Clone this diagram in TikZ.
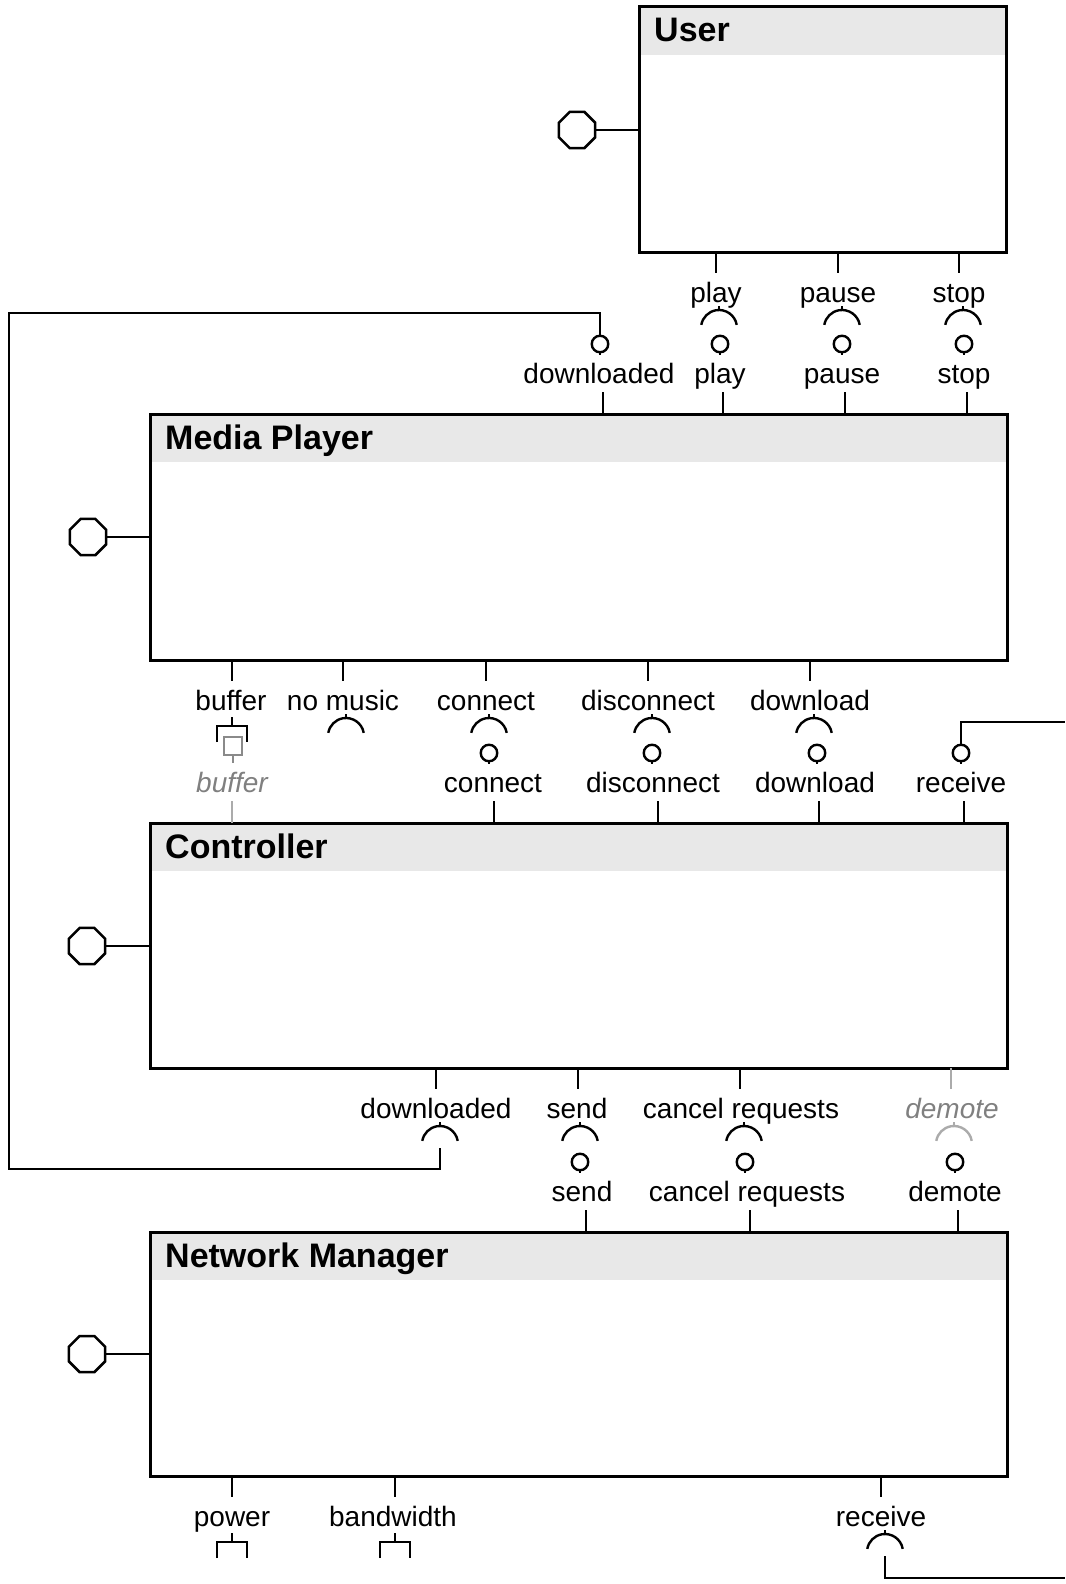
\documentclass[tikz,border=0pt]{standalone}
\usepackage{fontspec}
\setmainfont{Liberation Sans}
\usetikzlibrary{shapes.geometric}

\newcommand{\lblfont}{\fontsize{28}{32}\selectfont}
\newcommand{\ttlfont}{\fontsize{34}{40}\selectfont\bfseries}

\definecolor{hdrgray}{HTML}{E8E8E8}
\definecolor{dimtext}{HTML}{808080}
\definecolor{dimline}{HTML}{ABABAB}
\definecolor{dimsquare}{HTML}{8A8A8A}

\tikzset{
  compbox/.style={fill=white, inner sep=0pt, outer sep=0pt, anchor=north west},
  frame/.style={draw=black, line width=3pt},
  stub/.style={draw=black, line width=2.4pt},
  wire/.style={draw=black, line width=2.4pt},
  lbl/.style={font=\lblfont, anchor=base, inner sep=0pt},
  ttl/.style={font=\ttlfont, anchor=base west, inner sep=0pt},
  ball/.style={circle, draw=black, line width=2.4pt, minimum size=16.5pt, inner sep=0pt, fill=white},
  octo/.style={regular polygon, regular polygon sides=8, draw=black, line width=2.5pt,
               minimum size=39pt, inner sep=0pt, fill=white},
}

% required interface below a box edge: stub, label, socket
\newcommand{\ReqSock}[6]{% id, edge y, stub x, label x, socket x, text
  \draw[stub] (#3,#2) -- (#3,#2+21);
  \node[lbl] (#1) at (#4,#2+50) {#6};
  \draw[stub] (#5,#2+54) -- (#5,#2+58);
  \draw[stub] (#5,#2+76) ++(17.73pt,3.13pt) arc[start angle=10,end angle=170,radius=18pt];
  \coordinate (#1-s) at (#5,#2+80);
}
% provided interface above a box edge: stub, label, ball
\newcommand{\ProvBall}[6]{% id, edge y, stub x, label x, ball x, text
  \draw[stub] (#3,#2) -- (#3,#2-22);
  \node[lbl] (#1) at (#4,#2-31) {#6};
  \draw[stub] (#5,#2-62) -- (#5,#2-59);
  \node[ball] (#1-b) at (#5,#2-70) {};
}
% open bracket port below a box edge
\newcommand{\BracketPort}[5]{% id, edge y, x, label x, text
  \draw[stub] (#3,#2) -- (#3,#2+21);
  \node[lbl] (#1) at (#4,#2+50) {#5};
  \draw[stub] (#3,#2+57) -- (#3,#2+66);
  \draw[stub] (#3-15,#2+82) -- (#3-15,#2+66) -- (#3+15,#2+66) -- (#3+15,#2+82);
}

\begin{document}
\begin{tikzpicture}[x=1pt, y=-1pt]
\useasboundingbox (0,0) rectangle (1065,1584);

% ---------- components ----------
\node[compbox, minimum width=367pt, minimum height=245pt] (user) at (639,7) {};
\node[compbox, minimum width=857pt, minimum height=246pt] (mp) at (150,414) {};
\node[compbox, minimum width=857pt, minimum height=245pt] (ctl) at (150,823) {};
\node[compbox, minimum width=857pt, minimum height=244pt] (nm) at (150,1232) {};

\foreach \b in {user,mp,ctl,nm} {
  \fill[hdrgray] (\b.north west) rectangle ([yshift=-48pt]\b.north east);
  \draw[frame] (\b.north west) rectangle (\b.south east);
}

\node[ttl] (userT) at (654,42) {User};
\node[ttl] (mpT) at (165,449) {Media Player};
\node[ttl] (ctlT) at (165,858) {Controller};
\node[ttl] (nmT) at (165,1267) {Network Manager};

% ---------- lifecycle ports ----------
\node[octo] (userO) at (577,130) {};
\node[octo] (mpO) at (88,537) {};
\node[octo] (ctlO) at (87,946) {};
\node[octo] (nmO) at (87,1354) {};
\draw[wire] (userO.east) -- (userO.east -| user.west);
\draw[wire] (mpO.east) -- (mpO.east -| mp.west);
\draw[wire] (ctlO.east) -- (ctlO.east -| ctl.west);
\draw[wire] (nmO.east) -- (nmO.east -| nm.west);

% ---------- User -> Media Player ----------
\ReqSock{uPlay}{252}{716}{716}{719}{play}
\ReqSock{uPause}{252}{838}{838}{842}{pause}
\ReqSock{uStop}{252}{959}{959}{963}{stop}

\ProvBall{mpDownloaded}{414}{603}{599}{600}{downloaded}
\ProvBall{mpPlay}{414}{723}{720}{720}{play}
\ProvBall{mpPause}{414}{845}{842}{842}{pause}
\ProvBall{mpStop}{414}{967}{964}{964}{stop}

% ---------- Media Player -> Controller ----------
\BracketPort{mpBuffer}{660}{232}{231}{buffer}
\ReqSock{mpNoMusic}{660}{343}{343}{346}{no music}
\ReqSock{mpConnect}{660}{486}{486}{489}{connect}
\ReqSock{mpDisconnect}{660}{648}{648}{652}{disconnect}
\ReqSock{mpDownload}{660}{810}{810}{814}{download}

% gray buffer port on the controller
\draw[stub, draw=dimline] (232,823) -- (232,801);
\node[lbl, text=dimtext, font=\lblfont\itshape] (ctlBuffer) at (232,792) {buffer};
\draw[stub, draw=dimsquare] (233,755) -- (233,763);
\draw[stub, draw=dimsquare, fill=white, line width=2.6pt] (224,737) rectangle (242,755);

\ProvBall{ctlConnect}{823}{494}{493}{489}{connect}
\ProvBall{ctlDisconnect}{823}{658}{653}{652}{disconnect}
\ProvBall{ctlDownload}{823}{819}{815}{817}{download}
\ProvBall{ctlReceive}{823}{964}{961}{961}{receive}

% ---------- Controller -> Network Manager ----------
\ReqSock{ctlDownloaded}{1068}{436}{436}{440}{downloaded}
\ReqSock{ctlSend}{1068}{578}{577}{580}{send}
\ReqSock{ctlCancel}{1068}{740}{741}{744}{cancel requests}

% gray demote port on the controller
\draw[stub, draw=dimline] (951,1068) -- (951,1089);
\node[lbl, text=dimtext, font=\lblfont\itshape] (ctlDemote) at (952,1118) {demote};
\draw[stub, draw=dimline] (954,1122) -- (954,1126);
\draw[stub, draw=dimline] (954,1144) ++(17.73pt,3.13pt) arc[start angle=10,end angle=170,radius=18pt];

\ProvBall{nmSend}{1232}{586}{582}{580}{send}
\ProvBall{nmCancel}{1232}{750}{747}{745}{cancel requests}
\ProvBall{nmDemote}{1232}{958}{955}{955}{demote}

% ---------- Network Manager bottom ----------
\BracketPort{nmPower}{1476}{232}{232}{power}
\BracketPort{nmBandwidth}{1476}{395}{393}{bandwidth}
\ReqSock{nmReceive}{1476}{881}{881}{885}{receive}

% ---------- delegation wires ----------
\coordinate (leftRail) at (9,313);
\coordinate (recvOutTop) at (1065,722);
\coordinate (recvOutBottom) at (1065,1578);

\draw[wire] (mpDownloaded-b.north) |- (leftRail) |- (ctlDownloaded-s |- 0,1169) -- (ctlDownloaded-s);
\draw[wire] (ctlReceive-b.north) |- (recvOutTop);
\draw[wire] (nmReceive-s) |- (recvOutBottom);
\end{tikzpicture}
\end{document}
